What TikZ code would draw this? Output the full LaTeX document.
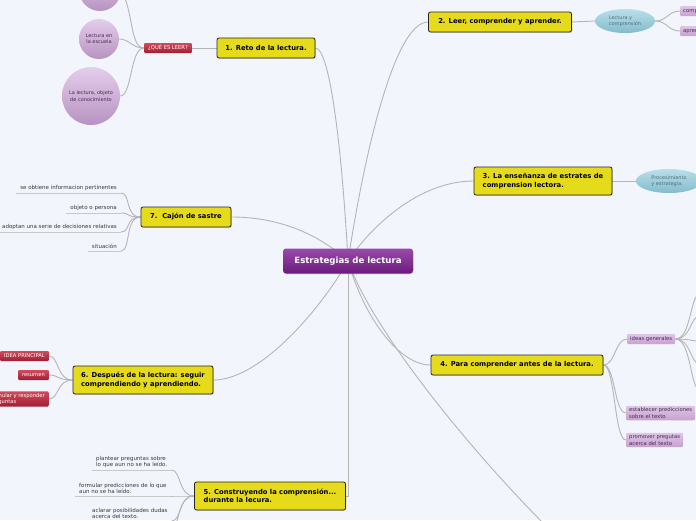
\documentclass[tikz,border=0pt]{standalone}
\usepackage{fontspec}
\setmainfont{DejaVu Sans}
\usetikzlibrary{shadows,shapes.geometric}
\pgfdeclarelayer{bottom}
\pgfdeclarelayer{background}
\pgfsetlayers{bottom,background,main}
\definecolor{bg}{HTML}{F3F5FD}
\definecolor{yel}{HTML}{E6DB1A}
\definecolor{purT}{HTML}{9A4BAA}
\definecolor{purB}{HTML}{6A1A7C}
\definecolor{redT}{HTML}{D24A5C}
\definecolor{redB}{HTML}{A01E33}
\definecolor{pbT}{HTML}{DEC5E6}
\definecolor{pbB}{HTML}{C6A2CF}
\definecolor{pbtext}{HTML}{4A2753}
\definecolor{ciT}{HTML}{E4CDEC}
\definecolor{ciB}{HTML}{B793C1}
\definecolor{elT}{HTML}{B9DFEA}
\definecolor{elB}{HTML}{84BBCC}
\definecolor{eltext}{HTML}{4F6F7F}
\definecolor{lnC}{HTML}{B5B5B5}
\definecolor{ulC}{HTML}{C8C8C8}
\definecolor{leafC}{HTML}{383838}
\begin{document}
\begin{tikzpicture}[x=1pt,y=-1pt,
  central/.style={rounded corners=3pt, top color=purT, bottom color=purB, text=white,
    font=\fontsize{8.6}{10}\selectfont\bfseries, minimum width=130pt, minimum height=25pt,
    drop shadow={shadow xshift=0.6pt,shadow yshift=-0.8pt,opacity=0.3}},
  topic/.style={draw=black!85, line width=0.8pt, fill=yel, rounded corners=2pt,
    font=\fontsize{6.8}{8.2}\selectfont\bfseries, align=left, minimum height=20pt, inner xsep=6pt,
    drop shadow={shadow xshift=0.8pt,shadow yshift=-0.8pt,opacity=0.35}},
  redbox/.style={top color=redT, bottom color=redB, text=white, rounded corners=1pt,
    font=\fontsize{5.2}{6.3}\selectfont, inner xsep=4pt, inner ysep=2pt, minimum height=10pt, align=left},
  pbox/.style={top color=pbT, bottom color=pbB, text=pbtext, rounded corners=1pt,
    font=\fontsize{5.3}{6.4}\selectfont, inner xsep=3pt, inner ysep=2pt, minimum height=10pt, align=left},
  circ/.style={circle, top color=ciT, bottom color=ciB, text=pbtext,
    font=\fontsize{5}{6.3}\selectfont, align=center, inner sep=0pt},
  ell/.style={ellipse, top color=elT, bottom color=elB, text=eltext,
    font=\fontsize{5}{6.3}\selectfont, align=left, inner sep=0pt, minimum height=24pt},
  leaf/.style={font=\fontsize{5.5}{6.7}\selectfont, text=leafC, inner xsep=4pt, inner ysep=1.8pt},
  conn/.style={draw=lnC, line width=0.9pt},
  ul/.style={draw=ulC, line width=0.7pt}
]
\useasboundingbox (0,0) rectangle (696,520);
\clip (0,0) rectangle (696,520);
\begin{pgfonlayer}{bottom}
\fill[bg] (0,0) rectangle (696,520);
\end{pgfonlayer}

% ---------- main nodes ----------
\node[central] (c) at (348,261) {Estrategias de lectura};
\node[topic, minimum width=98pt] (t1) at (266,48) {1. Reto de la lectura.};
\node[topic, minimum width=143pt] (t2) at (500,22) {2. Leer, comprender y aprender.};
\node[topic, minimum width=138pt, minimum height=28pt] (t3) at (543,181) {3. La enseñanza de estrates de\\comprension lectora.};
\node[topic, minimum width=90pt] (t7) at (186,217) {7.\ \ Cajón de sastre};
\node[topic, minimum width=140pt, minimum height=28pt] (t6) at (143,380) {6. Después de la lectura: seguir\\comprendiendo y aprendiendo.};
\node[topic, minimum width=172pt] (t4) at (517,365) {4. Para comprender antes de la lectura.};
\node[topic, minimum width=151pt, minimum height=28pt] (t5) at (270,496) {5. Construyendo la comprensión...\\durante la lecura.};
\coordinate (t8) at (548,528);

% ---------- subtopics ----------
\node[redbox] (q) at (168,48) {¿QUÉ ES LEER?};
\node[circ, minimum size=42pt] (cA) at (100,-10) {};
\node[circ, minimum size=40pt] (cB) at (99,39) {Lectura en\\la escuela};
\node[circ, minimum size=58pt] (cC) at (91,96) {La lectura, objeto\\de conocimiento};

\node[ell, minimum width=60pt] (e2) at (625,21) {Lectura y\\comprensión};
\node[pbox, anchor=west] (p2a) at (680,11) {comprender};
\node[pbox, anchor=west] (p2b) at (680,31) {aprender};
\node[ell, minimum width=66pt] (e3) at (669,181) {Procesimiento\\y estrategia.};

\node[leaf, anchor=south east, align=right] (l71) at (121,193) {se obtiene informacion pertinentes};
\node[leaf, anchor=south east, align=right] (l72) at (121,213) {objeto o persona};
\node[leaf, anchor=south east, align=right] (l73) at (121,232) {adoptan una serie de decisiones relativas};
\node[leaf, anchor=south east, align=right] (l74) at (121,251) {situación};

\node[redbox, anchor=east] (r1) at (49,356) {IDEA PRINCIPAL};
\node[redbox, anchor=east] (r2) at (49,375) {resumen};
\node[redbox, anchor=east] (r3) at (49,399) {formular y responder\\preguntas};

\node[pbox, anchor=west] (g1) at (627,339) {ideas generales};
\node[pbox, anchor=west] (g2) at (626,413) {establecer predicciones\\sobre el texto};
\node[pbox, anchor=west] (g3) at (626,440) {promover pregutas\\acerca del texto};
\coordinate (ga) at (700,294);
\coordinate (gb) at (700,316);
\coordinate (gc) at (700,341);
\coordinate (gd) at (700,364);
\coordinate (ge) at (700,390);

\node[leaf, anchor=south west, align=left] (l51) at (92,470) {plantear preguntas sobre\\lo que aun no se ha leído.};
\node[leaf, anchor=south west, align=left] (l52) at (75,496) {formular predicciones de lo que\\aun no se ha leído.};
\node[leaf, anchor=south west, align=left] (l53) at (88,521) {aclarar posibilidades dudas\\acerca del texto.};
\coordinate (l54) at (172,532);

% ---------- connectors ----------
\begin{pgfonlayer}{background}
\draw[conn] (c.center) .. controls (342,150) and (330,48) .. (t1.east);
\draw[conn] (c.center) .. controls (365,150) and (395,22) .. (t2.west);
\draw[conn] (c.center) .. controls (372,225) and (420,181) .. (t3.west);
\draw[conn] (t7.east) .. controls (280,217) and (320,235) .. (c.center);
\draw[conn] (c.center) .. controls (320,310) and (260,380) .. (t6.east);
\draw[conn] (c.center) .. controls (365,320) and (400,365) .. (t4.west);
\draw[conn] (c.center) -- (c.center |- t5.east) -- (t5.east);
\draw[conn] (c.center) .. controls (372,330) and (470,450) .. (t8);

\draw[conn] (t1.west) -- (q.east);
\draw[conn] (q.west) .. controls +(-14,0) and +(12,20) .. (cA.east);
\draw[conn] (q.west) .. controls +(-12,0) and +(10,0) .. (cB.east);
\draw[conn] (q.west) .. controls +(-14,0) and +(12,0) .. (cC.east);

\draw[conn] (t2.east) -- (e2.west);
\draw[conn] (e2.east) .. controls +(12,0) and +(-12,0) .. (p2a.west);
\draw[conn] (e2.east) .. controls +(12,0) and +(-12,0) .. (p2b.west);
\draw[conn] (t3.east) -- (e3.west);

\foreach \l in {l71,l72,l73,l74}{
  \draw[ul] (\l.south west) -- (\l.south east);
  \draw[conn] (t7.west) .. controls +(-16,0) and +(10,0) .. (\l.south east);
}
\foreach \r in {r1,r2,r3}{
  \draw[conn] (t6.west) .. controls +(-16,0) and +(10,0) .. (\r.east);
}
\foreach \g in {g1,g2,g3}{
  \draw[conn] (t4.east) .. controls +(12,0) and +(-12,0) .. (\g.west);
}
\foreach \k in {ga,gb,gc,gd,ge}{
  \draw[conn] (g1.east) .. controls +(16,0) and +(-10,0) .. (\k);
}
\foreach \l in {l51,l52,l53}{
  \draw[ul] (\l.south west) -- (\l.south east);
  \draw[conn] (t5.west) .. controls +(-16,0) and +(10,0) .. (\l.south east);
}
\draw[conn] (t5.west) .. controls +(-16,0) and +(8,-10) .. (l54);
\end{pgfonlayer}
\end{tikzpicture}
\end{document}
